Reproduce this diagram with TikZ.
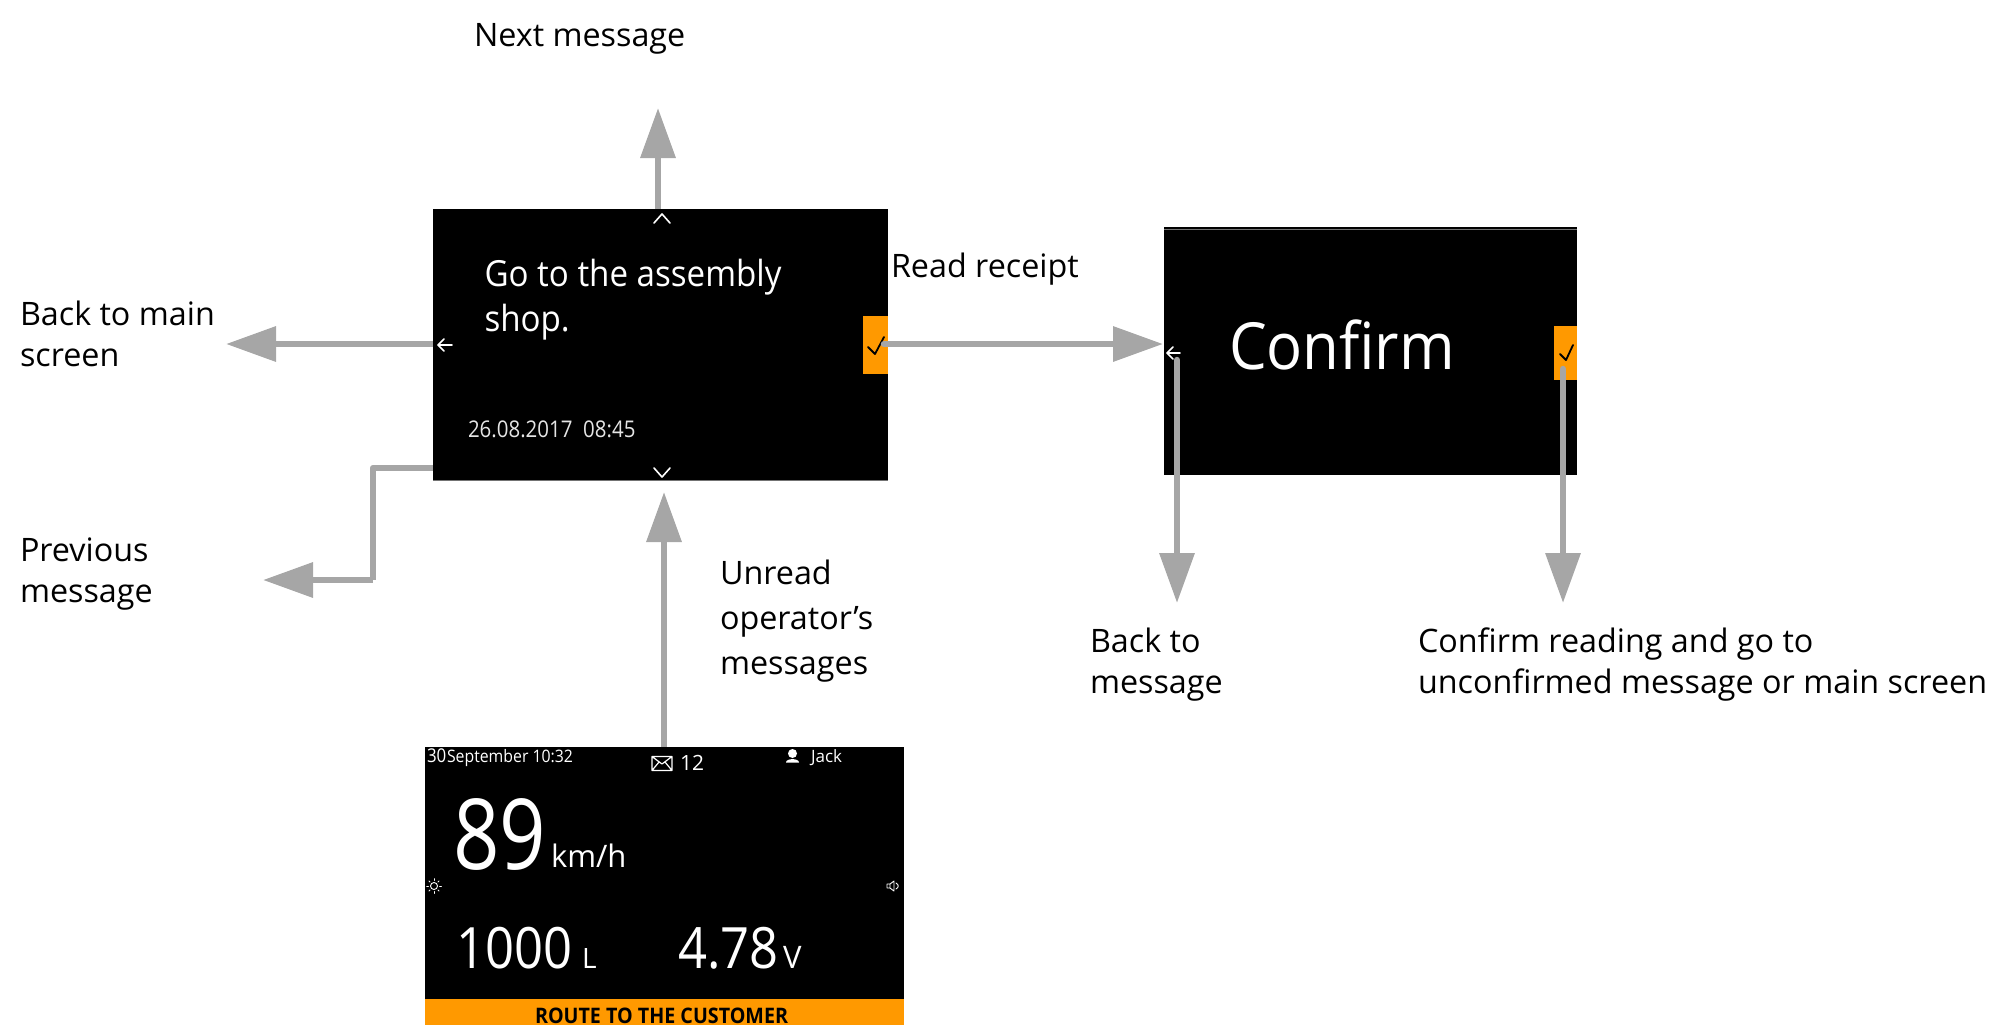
\documentclass[tikz,border=0pt]{standalone}
\usepackage{fontspec}
\setmainfont{Open Sans}
\newfontfamily\panelfont[FakeStretch=0.92]{Open Sans}
\newfontfamily\readoutfont[FakeStretch=0.89]{Open Sans}
\newfontfamily\speedfont[FakeStretch=0.83]{Open Sans}
\usetikzlibrary{arrows.meta}
\definecolor{flowgrey}{HTML}{A6A6A6}
\definecolor{signal}{HTML}{FF9900}
\newcommand{\fs}[2]{\fontsize{#1}{#2}\selectfont}
\tikzset{
  x=1pt, y=-1pt,
  screen/.style={fill=black, draw=none, inner sep=0, outer sep=0, anchor=north west},
  softkey/.style={fill=signal, draw=none, inner sep=0, outer sep=0, anchor=north west},
  flow/.style={draw=flowgrey, line width=6.5pt, -{Triangle[length=50pt,width=34pt]}},
  elbow/.style={draw=flowgrey, line width=6.5pt, line join=round},
  caption/.style={anchor=base west, inner sep=0, outer sep=0, align=left, text=black, font=\fs{32.3}{41}},
  ontext/.style={anchor=base west, inner sep=0, outer sep=0, align=left, text=white},
  glyph/.style={draw=white, line width=1.6pt, line cap=round, line join=round},
  darkglyph/.style={draw=black, line width=1.8pt, line cap=round, line join=round},
  edgeline/.style={draw=black!55, line width=1pt},
}
\begin{document}
\begin{tikzpicture}
\useasboundingbox (0,0) rectangle (2009,1025);

% screens and their soft keys
\node[screen, minimum width=455pt, minimum height=271pt] (msg) at (433,209) {};
\node[softkey, minimum width=25pt, minimum height=58pt] (msgkey) at (863,316) {};
\node[screen, minimum width=413pt, minimum height=248pt] (conf) at (1164,227) {};
\node[softkey, minimum width=23pt, minimum height=54pt] (confkey) at (1554,326) {};
\node[screen, minimum width=479pt, minimum height=278pt] (main) at (425,747) {};
\node[softkey, minimum width=479pt, minimum height=26pt] (mainbar) at (425,999) {};

% thin rims along the screen edges
\draw[edgeline] (433,480) -- (888,480);
\draw[edgeline] (1164,229) -- (1577,229);

% message screen contents
\node[ontext, font=\panelfont\fs{36}{45}] (goto) at (484.5,286) {Go to the assembly};
\node[ontext, font=\panelfont\fs{36}{45}] (shop) at (484.5,331) {shop.};
\node[ontext, font=\readoutfont\fs{23}{28}, text=white!90!black] (stamp) at (468,437) {26.08.2017\ \ 08:45};
\draw[glyph] (654,223) -- (662,214) -- (670,223);
\draw[glyph] (654,468) -- (662,477) -- (670,468);
\draw[glyph] (452,345) -- (438,345) (444,339) -- (438,345) -- (444,351);
\draw[darkglyph] (868,347) -- (875,354) -- (884,337);

% confirmation screen contents
\node[ontext, font=\panelfont\fs{65}{75}] (conftext) at (1229,369) {Confirm};
\draw[glyph] (1180,353) -- (1167,353) (1173,347) -- (1167,353) -- (1173,359);
\draw[darkglyph] (1560,354) -- (1566,360) -- (1573,345);

% main screen contents
\node[ontext, font=\readoutfont\fs{19}{24}] (day) at (427,762) {30};
\node[ontext, font=\panelfont\fs{17.2}{22}] (date) at (447,762) {September 10:32};
\draw[glyph, line width=1.2pt] (652,756.5) rectangle (672,770.5) (652,756.5) -- (662,764) -- (672,756.5) (652,770.5) -- (659,762) (672,770.5) -- (665,762);
\node[ontext, font=\fs{21}{26}] (unread) at (680,770) {12};
\fill[white] (792.5,753.5) circle (4.5) (786,762.5) .. controls (786,758) and (799,758) .. (799,762.5) -- cycle;
\node[ontext, font=\fs{17}{22}] (user) at (811,762) {Jack};
\node[ontext, font=\speedfont\fs{98}{110}] (speed) at (453,869) {89};
\node[ontext, font=\fs{31}{36}] (speedunit) at (551,867) {km/h};
\draw[glyph, line width=0.9pt] (434,886) circle (3.5);
\foreach \a in {0,45,...,315} \draw[glyph, line width=0.9pt] (434,886) ++(\a:5.5) -- ++(\a:1.8);
\draw[glyph, line width=0.9pt] (887,884) rectangle (890,888) (890,884) -- (894,881) -- (894,891) -- (890,888) (896,883) .. controls (899,885) and (899,887) .. (896,889);
\node[ontext, font=\readoutfont\fs{57}{64}] (fuel) at (456,968) {1000};
\node[ontext, font=\fs{28}{34}] (fuelunit) at (582,968) {L};
\node[ontext, font=\readoutfont\fs{57}{64}] (volt) at (678,968) {4.78};
\node[ontext, font=\fs{31}{34}] (voltunit) at (783,968) {V};
\node[ontext, font=\panelfont\fs{21.4}{26}\bfseries, text=black] (route) at (535,1023) {ROUTE TO THE CUSTOMER};

% free ends of the connectors
\coordinate (nexttip) at (658,108);
\coordinate (backtip) at (226,344);
\coordinate (prevknee) at (373,468);
\coordinate (prevcorner) at (373,580);
\coordinate (prevtip) at (263,580);
\coordinate (unreadtip) at (664,492);
\coordinate (backmsgstart) at (1177,360);
\coordinate (backmsgtip) at (1177,603);
\coordinate (confirmstart) at (1563,369);
\coordinate (confirmtip) at (1563,603);
\coordinate (keyedge) at (884,344);
\coordinate (confentry) at (1163,344);

% connectors
\draw[flow] (msg.north -| nexttip) -- (nexttip);
\draw[flow] (msg.west |- backtip) -- (backtip);
\draw[flow, line cap=round] (keyedge) -- (confentry);
\draw[elbow] (msg.west |- prevknee) -- (prevknee) -- (prevcorner);
\draw[flow] (prevcorner) -- (prevtip);
\draw[flow] (main.north -| unreadtip) -- (unreadtip);
\draw[flow, line cap=round] (backmsgstart) -- (backmsgtip);
\draw[flow, line cap=round] (confirmstart) -- (confirmtip);

% captions
\node[caption] (c1) at (474,47) {Next message};
\node[caption] (c2) at (20,366) {Back to main\\screen};
\node[caption] (c3) at (20,602) {Previous\\message};
\node[caption, font=\fs{32.3}{45}] (c4) at (720,674) {Unread\\operator’s\\messages};
\node[caption] (c5) at (891,277) {Read receipt};
\node[caption] (c6) at (1090,693) {Back to\\message};
\node[caption] (c7) at (1418,693) {Confirm reading and go to\\unconfirmed message or main screen};
\end{tikzpicture}
\end{document}
